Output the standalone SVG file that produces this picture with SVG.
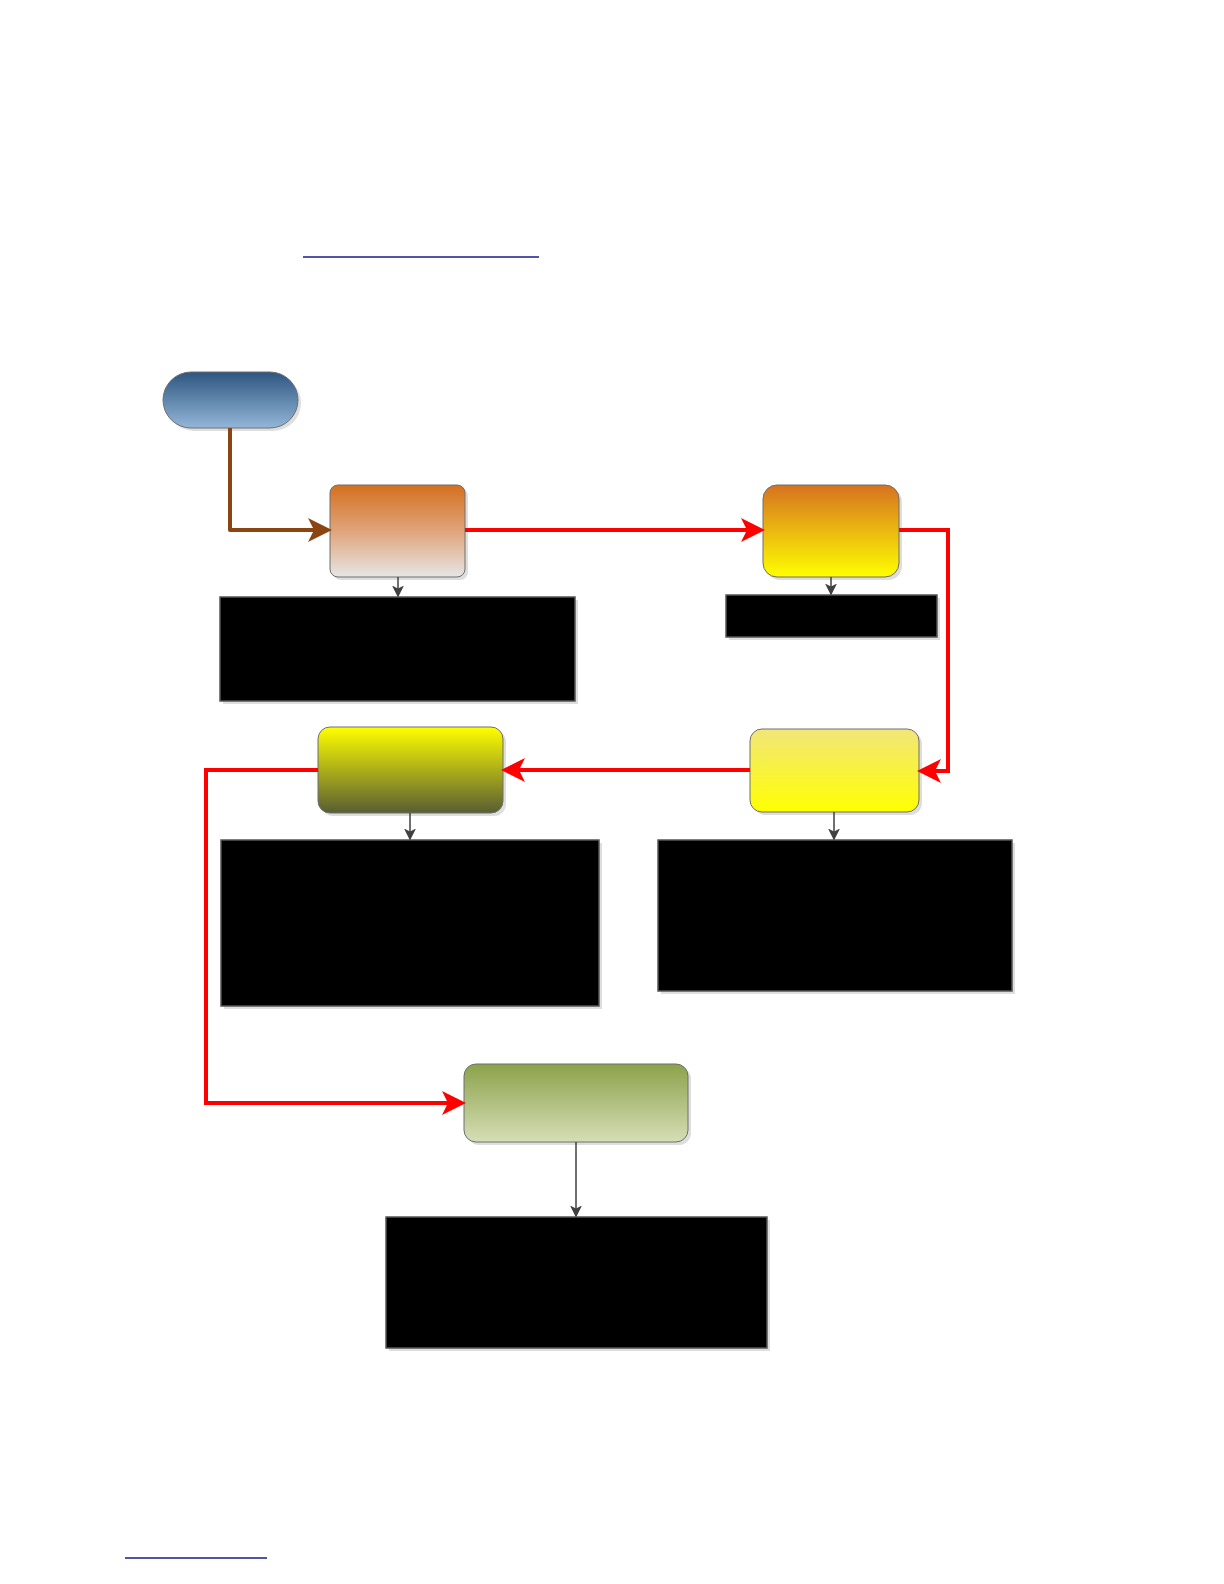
<svg xmlns="http://www.w3.org/2000/svg" width="1224" height="1584" viewBox="0 0 1224 1584">
<style>
.node{stroke:#6e6e6e;stroke-width:1}
.shadow{fill:#c8c8c8;opacity:0.6}
.blk{fill:#000;stroke:#555;stroke-width:1.5}
.red{fill:none;stroke:#ff0000;stroke-width:4;stroke-linejoin:miter}
.gray{fill:none;stroke:#404040;stroke-width:1.5}
.link{stroke:#1a1a8c;stroke-width:1.5}
</style>
<defs>
<linearGradient id="gStart" x1="0" y1="0" x2="0" y2="1"><stop offset="0" stop-color="#2d5680"/><stop offset="1" stop-color="#93b6d8"/></linearGradient>
<linearGradient id="g1" x1="0" y1="0" x2="0" y2="1"><stop offset="0" stop-color="#d4701e"/><stop offset="0.5" stop-color="#e0a47a"/><stop offset="1" stop-color="#e6e6e6"/></linearGradient>
<linearGradient id="g2" x1="0" y1="0" x2="0" y2="1"><stop offset="0" stop-color="#d6721f"/><stop offset="1" stop-color="#ffff00"/></linearGradient>
<linearGradient id="g3" x1="0" y1="0" x2="0" y2="1"><stop offset="0" stop-color="#f2e67a"/><stop offset="1" stop-color="#ffff00"/></linearGradient>
<linearGradient id="g4" x1="0" y1="0" x2="0" y2="1"><stop offset="0" stop-color="#ffff00"/><stop offset="1" stop-color="#595d33"/></linearGradient>
<linearGradient id="g5" x1="0" y1="0" x2="0" y2="1"><stop offset="0" stop-color="#8ca24a"/><stop offset="1" stop-color="#d6deb6"/></linearGradient>
<marker id="aRed" markerWidth="6" markerHeight="6" refX="5" refY="3" orient="auto" markerUnits="strokeWidth"><path d="M0,0 L6,3 L0,6 L1.5,3 Z" fill="#ff0000"/></marker>
<marker id="aBrown" markerWidth="6" markerHeight="6" refX="5" refY="3" orient="auto" markerUnits="strokeWidth"><path d="M0,0 L6,3 L0,6 L1.5,3 Z" fill="#8b4513"/></marker>
<marker id="aGray" markerWidth="8" markerHeight="8" refX="7" refY="4" orient="auto" markerUnits="strokeWidth"><path d="M0,0 L8,4 L0,8 L2,4 Z" fill="#404040"/></marker>
</defs>
<rect width="1224" height="1584" fill="#fff"/>

<line class="link" x1="303" y1="257" x2="539" y2="257"/>
<line class="link" x1="125" y1="1558" x2="267" y2="1558"/>

<g id="start">
<rect class="shadow" x="166" y="375" width="135" height="56" rx="28"/>
<rect class="node" x="163" y="372" width="135" height="56" rx="28" fill="url(#gStart)"/>
</g>
<g id="n1">
<rect class="shadow" x="333" y="488" width="135" height="92" rx="8"/>
<rect class="node" x="330" y="485" width="135" height="92" rx="8" fill="url(#g1)"/>
</g>
<g id="n2">
<rect class="shadow" x="766" y="488" width="136" height="92" rx="14"/>
<rect class="node" x="763" y="485" width="136" height="92" rx="14" fill="url(#g2)"/>
</g>
<g id="n3">
<rect class="shadow" x="753" y="732" width="169" height="83" rx="12"/>
<rect class="node" x="750" y="729" width="169" height="83" rx="12" fill="url(#g3)"/>
</g>
<g id="n4">
<rect class="shadow" x="321" y="730" width="185" height="86" rx="12"/>
<rect class="node" x="318" y="727" width="185" height="86" rx="12" fill="url(#g4)"/>
</g>
<g id="n5">
<rect class="shadow" x="467" y="1067" width="224" height="78" rx="12"/>
<rect class="node" x="464" y="1064" width="224" height="78" rx="12" fill="url(#g5)"/>
</g>

<g id="b1"><rect class="shadow" x="223" y="600" width="355" height="104"/><rect class="blk" x="220" y="597" width="355" height="104"/></g>
<g id="b2"><rect class="shadow" x="729" y="598" width="211" height="42"/><rect class="blk" x="726" y="595" width="211" height="42"/></g>
<g id="b3"><rect class="shadow" x="224" y="843" width="378" height="166"/><rect class="blk" x="221" y="840" width="378" height="166"/></g>
<g id="b4"><rect class="shadow" x="661" y="843" width="354" height="151"/><rect class="blk" x="658" y="840" width="354" height="151"/></g>
<g id="b5"><rect class="shadow" x="389" y="1220" width="381" height="131"/><rect class="blk" x="386" y="1217" width="381" height="131"/></g>

<g id="connectors">
<polyline points="230,428 230,530 328,530" fill="none" stroke="#8b4513" stroke-width="4" stroke-linejoin="round" marker-end="url(#aBrown)"/>
<polyline class="red" points="465,530 761,530" marker-end="url(#aRed)"/>
<polyline class="red" points="899,530 948,530 948,771 921,771" marker-end="url(#aRed)"/>
<polyline class="red" points="750,770 505,770" marker-end="url(#aRed)"/>
<polyline class="red" points="318,770 206,770 206,1103 462,1103" marker-end="url(#aRed)"/>
<line class="gray" x1="398" y1="577" x2="398" y2="596" marker-end="url(#aGray)"/>
<line class="gray" x1="831" y1="577" x2="831" y2="594" marker-end="url(#aGray)"/>
<line class="gray" x1="410" y1="813" x2="410" y2="839" marker-end="url(#aGray)"/>
<line class="gray" x1="834" y1="812" x2="834" y2="839" marker-end="url(#aGray)"/>
<line class="gray" x1="576" y1="1142" x2="576" y2="1216" marker-end="url(#aGray)"/>
</g>
</svg>
